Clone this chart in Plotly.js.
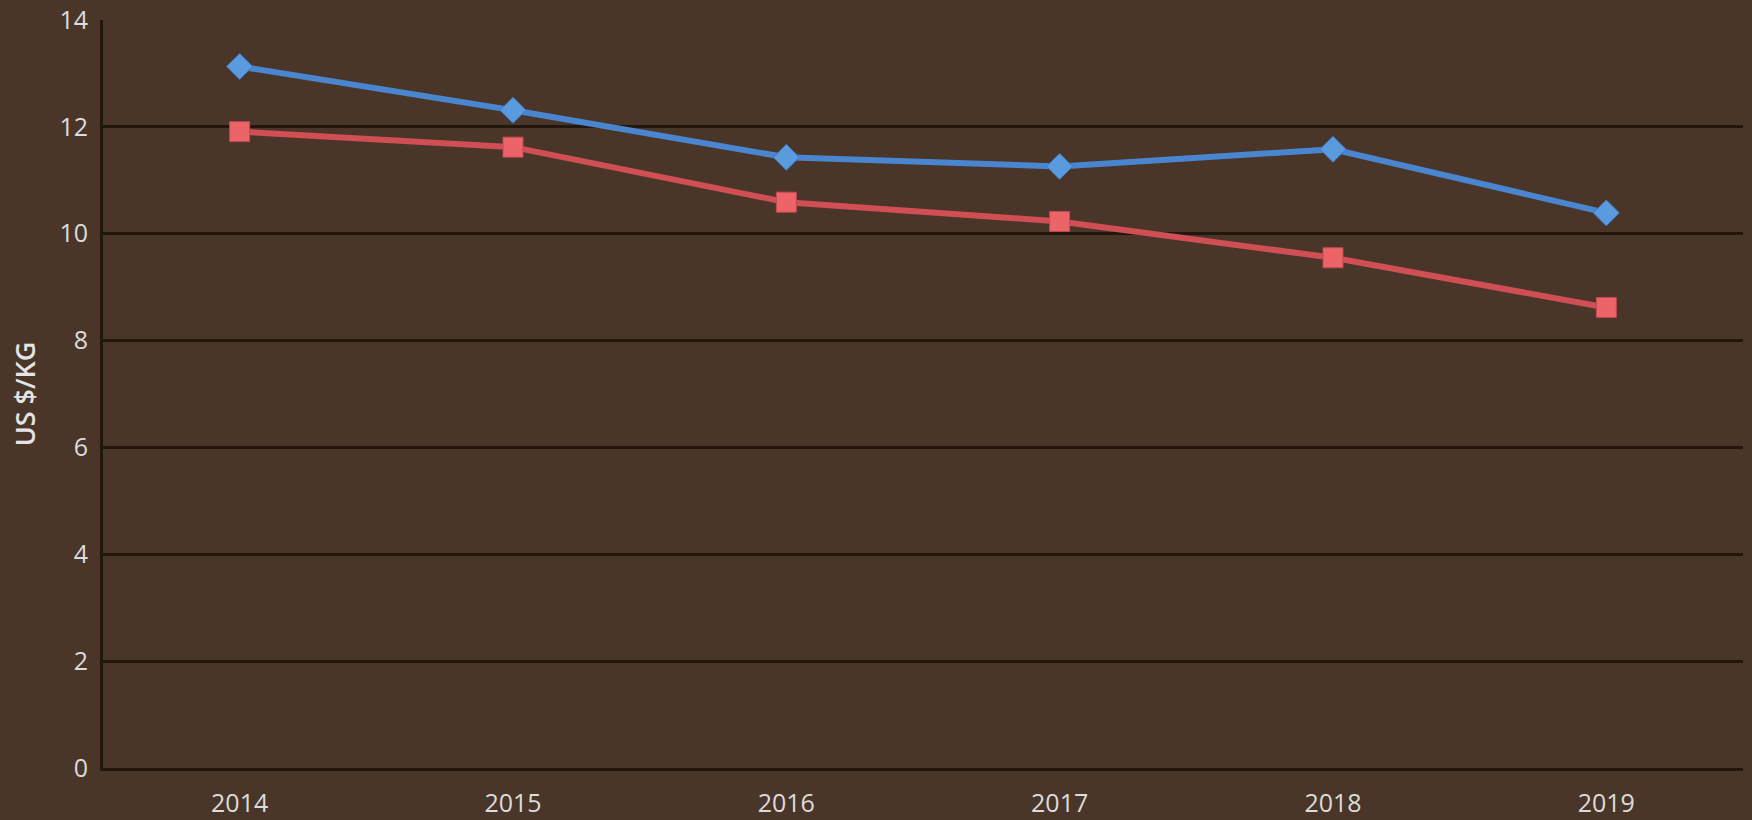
<!DOCTYPE html>
<html>
<head>
<meta charset="utf-8">
<script src="https://cdn.plot.ly/plotly-3.0.1.min.js"></script>
<style>html,body{margin:0;padding:0;background:#4a3529;}#chart{width:1752px;height:820px;}</style>
</head>
<body>
<div id="chart"></div>
<script>
const years = ['2014', '2015', '2016', '2017', '2018', '2019'];
const seriesBlue = [13.13, 12.31, 11.43, 11.26, 11.58, 10.39];
const seriesRed = [11.91, 11.62, 10.59, 10.23, 9.55, 8.62];
const yTicks = [0, 2, 4, 6, 8, 10, 12, 14];

const traces = [
  {
    x: years, y: seriesBlue, type: 'scatter', mode: 'lines+markers', name: 'Series 1',
    line: {color: '#4a86cf', width: 6},
    marker: {symbol: 'diamond', size: 20, color: '#5a9be0', line: {color: '#3f78bd', width: 1}}
  },
  {
    x: years, y: seriesRed, type: 'scatter', mode: 'lines+markers', name: 'Series 2',
    line: {color: '#cf4f55', width: 6},
    marker: {symbol: 'square', size: 20, color: '#ec6468', line: {color: '#c04a50', width: 1}}
  }
];

const layout = {
  width: 1752, height: 820,
  paper_bgcolor: '#4a3529', plot_bgcolor: '#4a3529',
  margin: {l: 103, r: 9, t: 20, b: 52},
  showlegend: false,
  font: {family: 'Open Sans, sans-serif', color: '#dcdcdc', size: 25},
  xaxis: {
    type: 'category', range: [-0.5, 5.5], showgrid: false,
    showline: true, linecolor: '#22170f', linewidth: 3,
    ticks: '', ticklabelstandoff: 11, tickfont: {size: 25, color: '#dcdcdc'},
    zeroline: false
  },
  yaxis: {
    range: [0, 14], tickvals: yTicks, ticktext: yTicks.map(String),
    showgrid: true, gridcolor: '#22170f', gridwidth: 3,
    showline: true, linecolor: '#22170f', linewidth: 3,
    zeroline: false, ticks: '', ticklabelstandoff: 7,
    tickfont: {size: 25, color: '#dcdcdc'},
    title: {text: 'US $/KG', font: {size: 27, color: '#e4e4e4', weight: 600}, standoff: 16}
  }
};

Plotly.newPlot('chart', traces, layout, {displayModeBar: false, staticPlot: true});
</script>
</body>
</html>
